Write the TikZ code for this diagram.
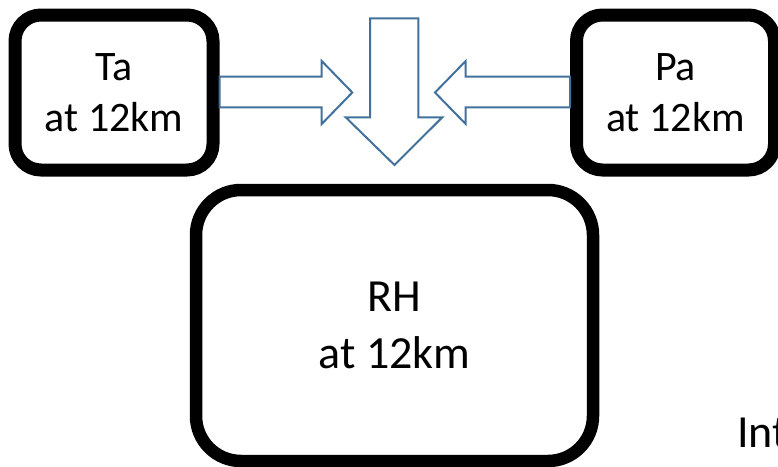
\documentclass[tikz,border=0pt]{standalone}
\usepackage{fontspec}
\setmainfont{Carlito}
\definecolor{arrowblue}{HTML}{41719C}
\tikzset{
  smallbox/.style={draw=black, fill=white, line width=13pt, rounded corners=26pt,
    minimum width=198pt, minimum height=155pt, align=center, inner sep=0pt,
    font=\fontsize{42}{51}\selectfont},
  bigbox/.style={draw=black, fill=white, line width=12.5pt, rounded corners=45pt,
    minimum width=397pt, minimum height=271pt, align=center, inner sep=0pt,
    font=\fontsize{46}{57}\selectfont},
  blockarrow/.style={draw=arrowblue, line width=2pt, fill=white, line join=miter},
  plaintext/.style={font=\fontsize{46}{57}\selectfont, inner sep=0pt}
}
\begin{document}
\begin{tikzpicture}[x=1pt, y=-1pt]
  \useasboundingbox (0,0) rectangle (778,466);

  % input and output boxes
  \node[smallbox] (ta) at (114,92.5) {Ta\\at 12km};
  \node[smallbox] (pa) at (675.5,92.5) {Pa\\at 12km};
  \node[bigbox] (rh) at (394.5,325.5) {RH\\at 12km};

  % block arrows: Ta and Pa feed in from the sides, the result goes down to RH
  \draw[blockarrow] (ta.east |- 0,76.7) -- (321.7,76.7) -- (321.7,61) -- (352.3,92.5)
    -- (321.7,124) -- (321.7,107.3) -- (ta.east |- 0,107.3) -- cycle;
  \draw[blockarrow] (pa.west |- 0,76.7) -- (465.7,76.7) -- (465.7,61) -- (435,92.5)
    -- (465.7,124) -- (465.7,107.3) -- (pa.west |- 0,107.3) -- cycle;
  \draw[blockarrow] (370,18.3) -- (418.3,18.3) -- (418.3,117.3) -- (442.3,117.3)
    -- (rh.north |- 0,165) -- (345.7,117.3) -- (370,117.3) -- cycle;

  % partly visible label at the lower right
  \node[plaintext, anchor=base west] (int) at (737,447) {Int};
\end{tikzpicture}
\end{document}
